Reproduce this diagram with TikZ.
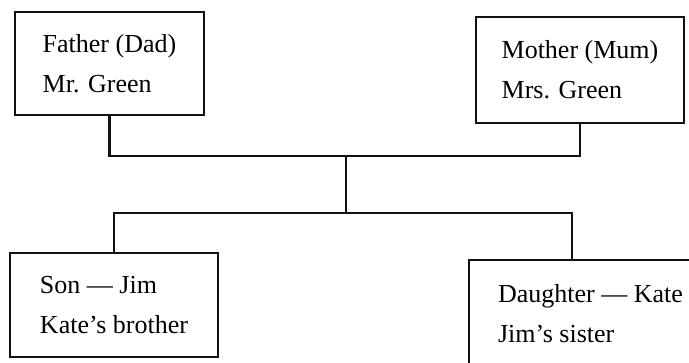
\documentclass[tikz,border=0pt]{standalone}
\usepackage{fontspec}
\setmainfont{Liberation Serif}
\usetikzlibrary{calc}
\usepackage{xcolor}
\definecolor{inkline}{HTML}{111111}

\tikzset{
  famcard/.style={draw=inkline, line width=2.2pt, align=left, inner sep=0pt,
    font=\fontsize{26}{40}\selectfont},
  famlink/.style={draw=inkline, line width=2.2pt}
}

\begin{document}
\begin{tikzpicture}[x=1pt, y=1pt]

  % Page frame
  \useasboundingbox (0, 0) rectangle (689, 362);
  \clip (0, 0) rectangle (689, 362);

  % Parents
  \node[famcard, minimum width=189pt, minimum height=103pt] (father) at (109.5, 298.5)
    {Father (Dad)\\Mr. Green};
  \node[famcard, minimum width=208pt, minimum height=106pt] (mother) at (580, 292)
    {Mother (Mum)\\Mrs. Green};

  % Children
  \node[famcard, minimum width=208pt, minimum height=104pt] (son) at (114, 57)
    {Son — Jim\\Kate’s brother};
  \node[famcard, minimum width=243pt, minimum height=108pt] (daughter) at (590.5, 48)
    {Daughter — Kate\\Jim’s sister};

  % Joints of the tree
  \coordinate (upjoint) at (346, 206);
  \coordinate (lowjoint) at (346, 149);
  \coordinate (daughtertop) at ($(daughter.north west)+(104, 0)$);

  % Family links
  \draw[famlink] (father.south) |- (upjoint) -| (mother.south);
  \draw[famlink] (upjoint) -- (lowjoint);
  \draw[famlink] (son.north) |- (lowjoint) -| (daughtertop);

\end{tikzpicture}
\end{document}
